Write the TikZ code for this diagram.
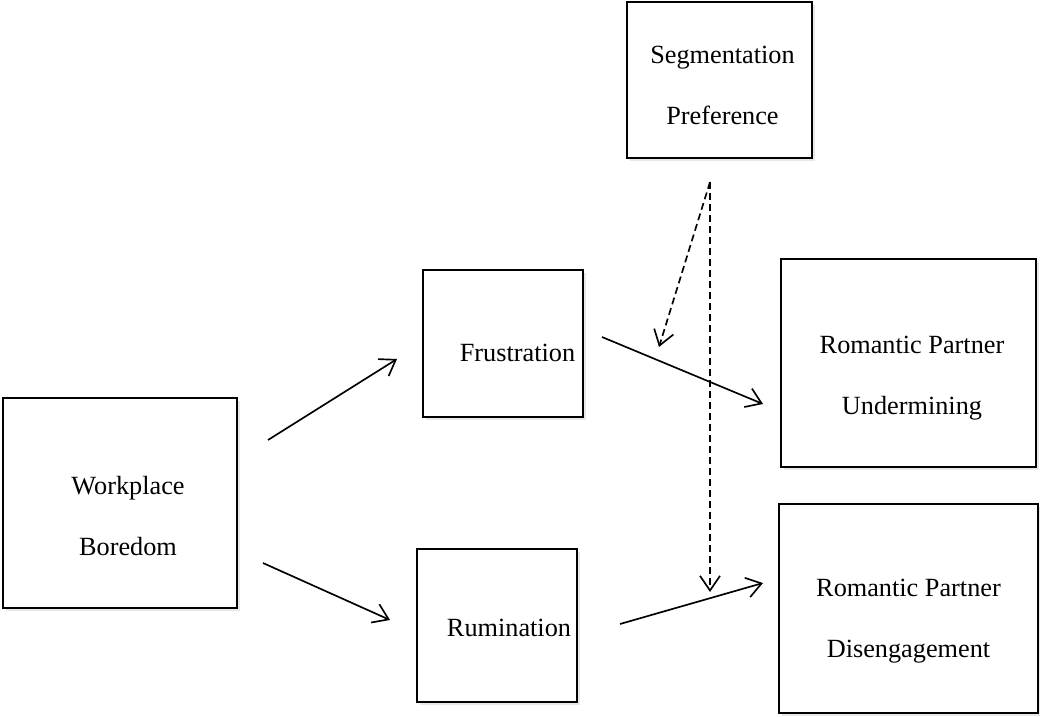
\documentclass[tikz,border=0pt]{standalone}
\usepackage{fontspec}
\setmainfont{Liberation Serif}
\usetikzlibrary{arrows.meta, positioning, shadows}
\tikzstyle{varbox} = [rectangle, draw=black, line width=1.7pt, fill=white, drop shadow={shadow xshift=2pt, shadow yshift=-2.5pt, opacity=0.18}]
\tikzstyle{vartext} = [align=center, inner sep=0pt, font=\fontsize{19.7}{45.75}\selectfont]
\tikzstyle{arrow} = [line width=1.25pt, -{Straight Barb[length=11pt,width=15pt]}]
\tikzstyle{modarrow} = [arrow, dash pattern=on 5.25pt off 3pt]

\begin{document}
\begin{tikzpicture}[x=0.75pt, y=-0.75pt]
        \useasboundingbox (0,0) rectangle (1040,717);

        % Variables
        \node (boredom) [varbox, minimum width=175.5pt, minimum height=157.5pt] at (120,503) {};
        \node (frustration) [varbox, minimum width=120pt, minimum height=110.25pt] at (503,343.5) {};
        \node (rumination) [varbox, minimum width=120pt, minimum height=114.75pt] at (497,625.5) {};
        \node (segmentation) [varbox, minimum width=138.75pt, minimum height=117pt] at (719.5,80) {};
        \node (undermining) [varbox, minimum width=191.25pt, minimum height=156pt] at (908.5,363) {};
        \node (disengagement) [varbox, minimum width=194.25pt, minimum height=156.75pt] at (908.5,608.5) {};

        % Texte des boites
        \node (boredomText) [vartext] at ([shift={(8,13.5)}]boredom.center) {Workplace\\Boredom};
        \node (frustrationText) [vartext] at ([shift={(14.5,9.5)}]frustration.center) {Frustration};
        \node (ruminationText) [vartext] at ([shift={(12,2.5)}]rumination.center) {Rumination};
        \node (segmentationText) [vartext] at ([shift={(3,5.5)}]segmentation.center) {Segmentation\\Preference};
        \node (underminingText) [vartext] at ([shift={(3.5,15)}]undermining.center) {Romantic Partner\\Undermining};
        \node (disengagementText) [vartext] at ([shift={(0,12.5)}]disengagement.center) {Romantic Partner\\Disengagement};

        % Extremites des fleches
        \coordinate (bfStart) at (268,440);
        \coordinate (bfEnd) at (397,359);
        \coordinate (brStart) at (263,563);
        \coordinate (brEnd) at (390,620);
        \coordinate (fuStart) at (602,337);
        \coordinate (fuEnd) at (763,404);
        \coordinate (rdStart) at (620,624);
        \coordinate (rdEnd) at (763,583);
        \coordinate (modStart) at (710,182);
        \coordinate (modPathA) at (659,347);
        \coordinate (modPathB) at (710,592);

        % Fleches
        \draw [arrow] (bfStart) -- (bfEnd);
        \draw [arrow] (brStart) -- (brEnd);
        \draw [arrow] (fuStart) -- (fuEnd);
        \draw [arrow] (rdStart) -- (rdEnd);
        \draw [modarrow] (modStart) -- (modPathA);
        \draw [modarrow] (modStart) -- (modPathB);

\end{tikzpicture}
\end{document}
